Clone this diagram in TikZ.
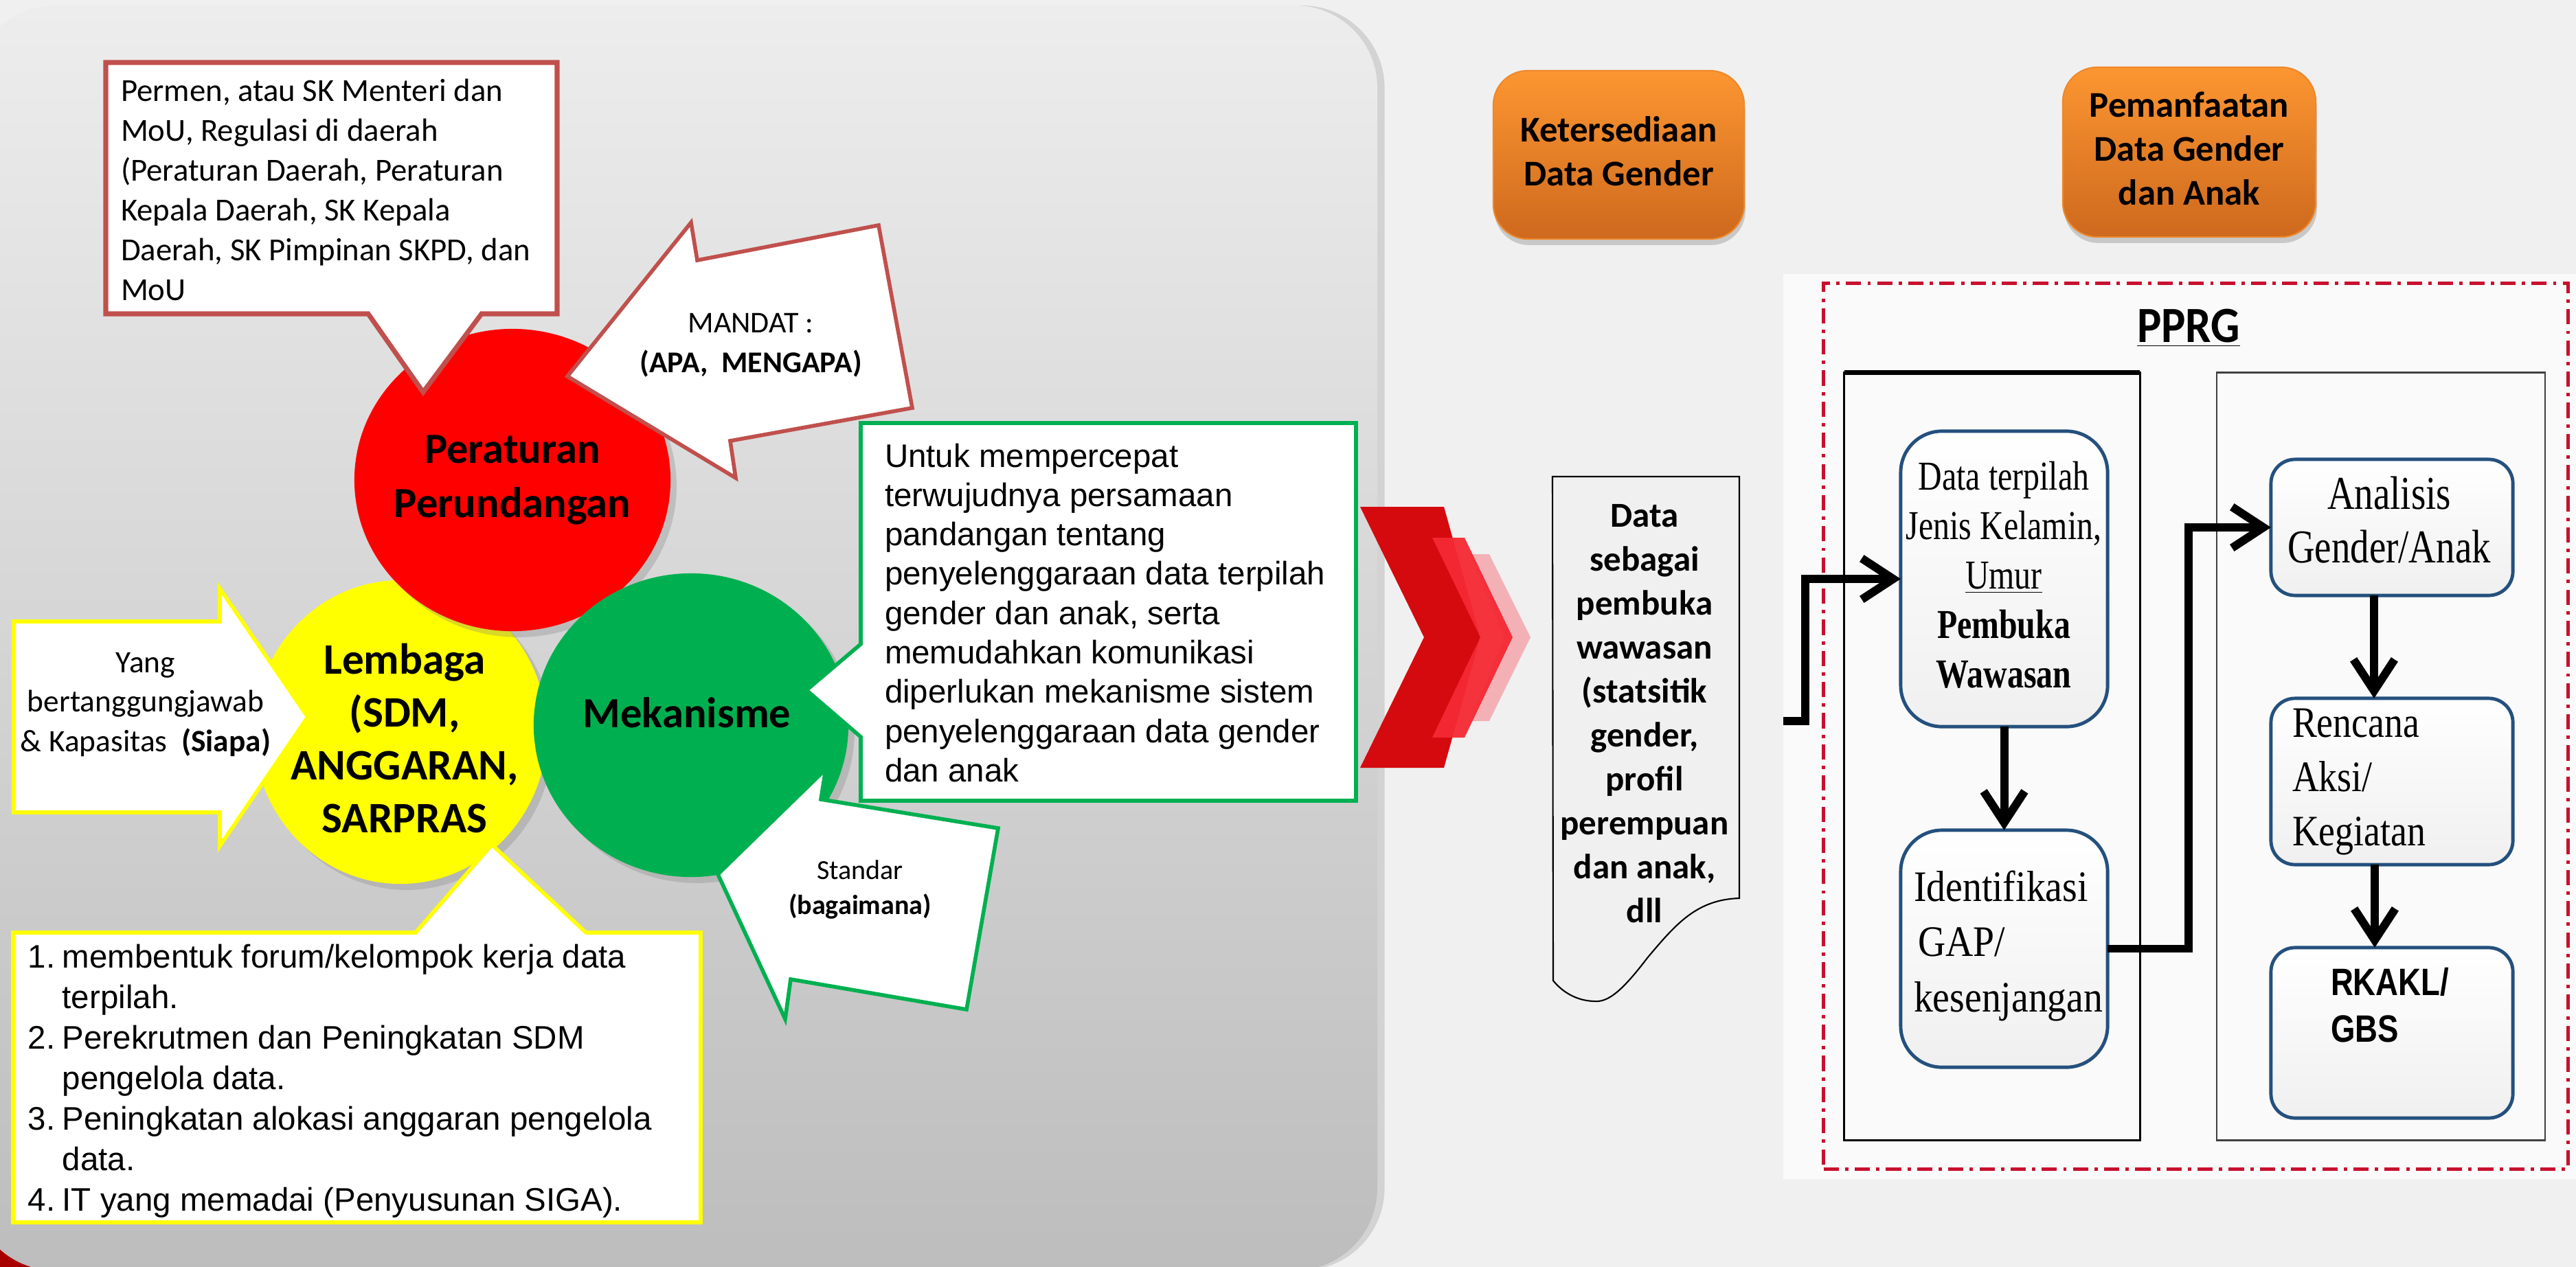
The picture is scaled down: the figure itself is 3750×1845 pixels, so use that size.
\documentclass[tikz,border=0pt]{standalone}
\usepackage{fontspec}
\usepackage{graphicx}
\setmainfont{Carlito}
\newfontfamily\arialf{Liberation Sans}
\newfontfamily\serf{Liberation Serif}
\usetikzlibrary{arrows.meta,shadows,shapes.geometric}
\newcommand\fs[2]{\fontsize{#1}{#2}\selectfont}
\newcommand\tl[1]{\begin{tabular}[t]{@{}l@{}}#1\end{tabular}}
\newcommand\tc[1]{\begin{tabular}[t]{@{}c@{}}#1\end{tabular}}
\definecolor{bgR}{HTML}{F0F0F0}
\definecolor{panT}{HTML}{EDEDED}
\definecolor{panB}{HTML}{BDBDBD}
\definecolor{cRed}{HTML}{FF0000}
\definecolor{cYel}{HTML}{FFFF00}
\definecolor{cGrn}{HTML}{00B050}
\definecolor{brRed}{HTML}{C0504D}
\definecolor{chevD}{HTML}{D50A0E}
\definecolor{chevM}{HTML}{F52933}
\definecolor{chevL}{HTML}{F3B1B6}
\definecolor{orT}{HTML}{FC9631}
\definecolor{orB}{HTML}{CE691E}
\definecolor{bluB}{HTML}{24507D}
\definecolor{ddRed}{HTML}{C8102E}
\definecolor{cornerRed}{HTML}{A80000}
\tikzset{
  calloutR/.style={draw=brRed, line width=2pt, fill=white, line join=miter},
  calloutG/.style={draw=cGrn, line width=1.6pt, fill=white, line join=miter},
  calloutY/.style={draw=cYel, line width=1.6pt, fill=white, line join=miter},
  disc/.style={ellipse, inner sep=0pt, drop shadow={opacity=0.3, shadow xshift=2.5pt, shadow yshift=-2.5pt}},
  obox/.style={rounded corners=0.5cm, top color=orT, bottom color=orB, draw=orT!70!orB, line width=0.6pt,
     drop shadow={opacity=0.35, shadow xshift=0.5pt, shadow yshift=-2.5pt}, align=center, font=\bfseries\fs{15}{18.2}},
  pbox/.style={draw=bluB, line width=1.4pt, top color=white, bottom color=black!6},
  flow/.style={line width=3.4pt, -{Straight Barb[length=13pt,width=17pt]}},
}
\begin{document}
\begin{tikzpicture}[x=0.01cm, y=-0.01cm, every node/.style={inner sep=0pt, outer sep=0pt}]
\useasboundingbox (0,0) rectangle (3750,1845);
% backgrounds
\fill[bgR] (0,0) rectangle (3750,1845);
\fill[cornerRed] (0,1760) rectangle (160,1845);
\path[shade, top color=panT, bottom color=panB, rounded corners=1.2cm,
  drop shadow={opacity=0.25, shadow xshift=3pt, shadow yshift=0pt}] (-40,8) rectangle (2005,1850);

% circles
\node[disc, fill=cYel, minimum width=4.26cm, minimum height=4.42cm] (cY) at (583,1066) {};
\node[disc, fill=cRed, minimum width=4.60cm, minimum height=4.40cm] (cR) at (746,699) {};
\node[disc, fill=cGrn, minimum width=4.58cm, minimum height=4.42cm] (cG) at (1006,1056) {};
\node[anchor=base] (tR) at (746,674) {\bfseries\fs{17.8}{22.5}\tc{Peraturan\\Perundangan}};
\node[anchor=base] (tY) at (589,981) {\bfseries\fs{18}{21.9}\tc{Lembaga\\(SDM,\\ANGGARAN,\\SARPRAS}};
\node[anchor=base] (tG) at (1000,1059) {\bfseries\fs{17.8}{21}Mekanisme};

% red callout
\draw[calloutR] (154,91) -- (811,91) -- (811,457) -- (701,457) -- (616,571) -- (536,457) -- (154,457) -- cycle;
\node[anchor=base west] (rtext) at (176,147) {\fs{13.3}{16.5}\tl{Permen, atau SK Menteri dan\\MoU, Regulasi di daerah\\(Peraturan Daerah, Peraturan\\Kepala Daerah, SK Kepala\\Daerah, SK Pimpinan SKPD, dan\\MoU}};

% MANDAT arrow
\draw[calloutR, line width=1.6pt] (826,548) -- (1006,324) -- (1015,379) -- (1279,328) -- (1328,594) -- (1063,642) -- (1071,696) -- cycle;
\node[anchor=base] (mtext) at (1093,484) {\fs{12.5}{16.5}\tc{MANDAT :\\\textbf{(APA,\ \ MENGAPA)}}};

% green callout
\draw[calloutG] (1253,616) -- (1974,616) -- (1974,1166) -- (1253,1166) -- (1253,1073) -- (1174,1005) -- (1253,938) -- cycle;
\node[anchor=base west] (gtext) at (1288,680) {\arialf\fs{13.5}{16.3}\tl{Untuk mempercepat\\terwujudnya persamaan\\pandangan tentang\\penyelenggaraan data terpilah\\gender dan anak, serta\\memudahkan komunikasi\\diperlukan mekanisme sistem\\penyelenggaraan data gender\\dan anak}};

% Standar arrow
\draw[calloutG] (1045,1273) -- (1202,1120) -- (1195,1164) -- (1453,1206) -- (1407,1470) -- (1151,1426) -- (1143,1484) -- cycle;
\node[anchor=base] (stext) at (1252,1280) {\fs{11.4}{14.5}\tc{Standar\\\textbf{(bagaimana)}}};

% yellow arrow
\draw[calloutY] (20,905) -- (320,905) -- (320,857) -- (448,1044) -- (320,1232) -- (320,1183) -- (20,1183) -- cycle;
\node[anchor=base] (ytext) at (212,979) {\fs{12.9}{16.4}\tc{Yang\\bertanggungjawab\\\& Kapasitas\ \ \textbf{(Siapa)}}};

% yellow callout
\draw[calloutY] (19,1358) -- (605,1358) -- (716,1230) -- (853,1358) -- (1020,1358) -- (1020,1780) -- (19,1780) -- cycle;
\node[anchor=base west] (ylist) at (41,1409) {\arialf\fs{13.5}{16.8}\begin{tabular}[t]{@{}l@{\hspace{2.9pt}}l@{}}1. & membentuk forum/kelompok kerja data\\ & terpilah.\\2. & Perekrutmen dan Peningkatan SDM\\ & pengelola data.\\3. & Peningkatan alokasi anggaran pengelola\\ & data.\\4. & IT yang memadai (Penyusunan SIGA).\end{tabular}};

% chevrons
\fill[chevD] (1980,738) -- (2102,738) -- (2155,928) -- (2102,1118) -- (1980,1118) -- (2073,928) -- cycle;
\fill[chevL] (2140,807) -- (2168,807) -- (2228,928) -- (2168,1050) -- (2140,1050) -- (2190,928) -- cycle;
\fill[chevM, opacity=0.95] (2085,783) -- (2132,783) -- (2202,928) -- (2132,1074) -- (2085,1074) -- (2155,928) -- cycle;

% orange headers
\node[obox, minimum width=3.65cm, minimum height=2.45cm] (K) at (2356.5,225.5) {\tc{Ketersediaan\\Data Gender}};
\node[obox, minimum width=3.68cm, minimum height=2.47cm] (P) at (3187,221.5) {\tc{Pemanfaatan\\Data Gender\\dan Anak}};

% data document
\draw[line width=0.6pt] (2260,694) -- (2532,694) -- (2532,1308)
  .. controls (2470,1310) and (2440,1345) .. (2398,1395)
  .. controls (2360,1445) and (2340,1460) .. (2320,1458)
  .. controls (2295,1457) and (2275,1445) .. (2261,1428) -- cycle;
\node[anchor=base] (dtext) at (2394,767) {\bfseries\fs{14.5}{18.2}\tc{Data\\sebagai\\pembuka\\wawasan\\(statsitik\\gender,\\profil\\perempuan\\dan anak,\\dll}};

% PPRG panel
\fill[black!2] (2596,399) rectangle (3750,1717);
\node[draw=ddRed, line width=1.4pt, dash pattern=on 6.3pt off 2.6pt on 1.4pt off 2.6pt,
  minimum width=10.83cm, minimum height=12.89cm] (frame) at (3196.5,1057.5) {};
\node[anchor=base] (ttl) at (3186,498) {\bfseries\fs{21}{24}\scalebox{0.9}[1]{\underline{PPRG}}};
\node[draw, line width=0.9pt, minimum width=4.30cm, minimum height=11.17cm] (Lcol) at (2900,1101.5) {};
\draw[line width=2pt] (Lcol.north west) -- (Lcol.north east);
\node[draw=black!75, line width=0.7pt, minimum width=4.78cm, minimum height=11.17cm] (Rcol) at (3466,1101.5) {};

\node[pbox, rounded corners=0.6cm, minimum width=3.01cm, minimum height=4.30cm] (A) at (2917.5,843) {};
\node[pbox, rounded corners=0.6cm, minimum width=3.01cm, minimum height=3.45cm] (B) at (2917.5,1381.5) {};
\node[pbox, rounded corners=0.35cm, minimum width=3.52cm, minimum height=1.98cm] (C) at (3482,768) {};
\node[pbox, rounded corners=0.35cm, minimum width=3.52cm, minimum height=2.42cm] (D) at (3482,1138) {};
\node[pbox, rounded corners=0.35cm, minimum width=3.52cm, minimum height=2.48cm] (E) at (3482,1504) {};

\node[anchor=base] (tA) at (2917,713) {\serf\fs{17}{20.5}\scalebox{0.8}[1]{\tc{Data terpilah\\Jenis Kelamin,\\\underline{Umur}\\\textbf{Pembuka}\\\textbf{Wawasan}}}};
\node[anchor=base west] (tB) at (2786,1312) {\serf\fs{18}{23}\scalebox{0.88}[1]{\tl{Identifikasi\\\hspace{2pt}GAP/\\kesenjangan}}};
\node[anchor=base] (tC) at (3478,741) {\serf\fs{19.5}{22.2}\scalebox{0.8}[1]{\tc{Analisis\\Gender/Anak}}};
\node[anchor=base west] (tD) at (3337,1073) {\serf\fs{18}{22.5}\scalebox{0.85}[1]{\tl{Rencana\\Aksi/\\Kegiatan}}};
\node[anchor=base west] (tE) at (3393,1449) {\arialf\bfseries\fs{15.8}{19.6}\scalebox{0.82}[1]{\tl{RKAKL/\\GBS}}};

% flow arrows
\coordinate (inS) at (2596,1050);
\draw[flow] (inS) -- ++(32,0) |- (A.west);
\draw[flow] (A) -- (B);
\draw[flow] (B.east) -- ++(118,0) |- (C.west);
\draw[flow] ([xshift=-0.26cm]C.south) -- ([xshift=-0.26cm]D.north);
\draw[flow] ([xshift=-0.25cm]D.south) -- ([xshift=-0.25cm]E.north);
\end{tikzpicture}
\end{document}
